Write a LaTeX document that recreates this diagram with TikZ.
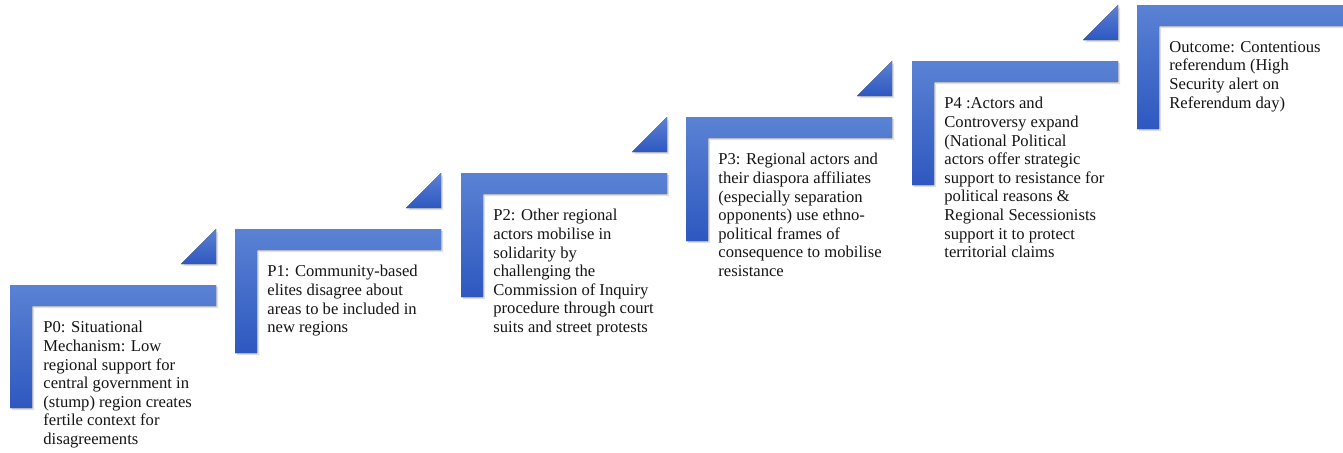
\documentclass[tikz,border=0pt]{standalone}
\usepackage{fontspec}
\setmainfont{Liberation Serif}
\usetikzlibrary{shadows}
\usepackage{xcolor}

\definecolor{azulclaro}{RGB}{90,130,212}
\definecolor{azulescuro}{RGB}{46,88,192}
\definecolor{texto}{RGB}{20,20,20}

\tikzset{
	degrau/.style = {top color = azulclaro, bottom color = azulescuro, draw = none, drop shadow = {opacity = 0.25, shadow xshift = 1pt, shadow yshift = -1pt}},
	passo/.style  = {anchor = north west, inner sep = 0pt, align = left, text = texto, font = \fontsize{8.3}{9.3}\selectfont}
}

\begin{document}
\begin{tikzpicture}[x = 0.5pt, y = -0.5pt]

	\useasboundingbox (0, 0) rectangle (1343, 452); % Área total

	\fill[degrau] (  10, 285) -- ( 216, 285) -- ( 216, 306) -- (  32, 306) -- (  32, 408) -- (  10, 408) -- cycle; % Degrau P0
	\fill[degrau] ( 235, 229) -- ( 441, 229) -- ( 441, 250) -- ( 257, 250) -- ( 257, 353) -- ( 235, 353) -- cycle; % Degrau P1
	\fill[degrau] ( 461, 173) -- ( 667, 173) -- ( 667, 194) -- ( 483, 194) -- ( 483, 297) -- ( 461, 297) -- cycle; % Degrau P2
	\fill[degrau] ( 686, 117) -- ( 892, 117) -- ( 892, 138) -- ( 708, 138) -- ( 708, 241) -- ( 686, 241) -- cycle; % Degrau P3
	\fill[degrau] ( 912,  61) -- (1118,  61) -- (1118,  82) -- ( 934,  82) -- ( 934, 185) -- ( 912, 185) -- cycle; % Degrau P4
	\fill[degrau] (1137,   5) -- (1343,   5) -- (1343,  26) -- (1159,  26) -- (1159, 129) -- (1137, 129) -- cycle; % Degrau final

	\fill[degrau] ( 181, 264) -- ( 216, 229) -- ( 216, 264) -- cycle; % Seta P0
	\fill[degrau] ( 406, 208) -- ( 441, 173) -- ( 441, 208) -- cycle; % Seta P1
	\fill[degrau] ( 632, 152) -- ( 667, 117) -- ( 667, 152) -- cycle; % Seta P2
	\fill[degrau] ( 857,  96) -- ( 892,  61) -- ( 892,  96) -- cycle; % Seta P3
	\fill[degrau] (1083,  40) -- (1118,   5) -- (1118,  40) -- cycle; % Seta P4

	\node[passo] (p0) at (  43, 321) {P0: Situational\\Mechanism: Low\\regional support for\\central government in\\(stump) region creates\\fertile context for\\disagreements};
	\node[passo] (p1) at ( 267, 265) {P1: Community-based\\elites disagree about\\areas to be included in\\new regions};
	\node[passo] (p2) at ( 493, 209) {P2: Other regional\\actors mobilise in\\solidarity by\\challenging the\\Commission of Inquiry\\procedure through court\\suits and street protests};
	\node[passo] (p3) at ( 718, 153) {P3: Regional actors and\\their diaspora affiliates\\(especially separation\\opponents) use ethno-\\political frames of\\consequence to mobilise\\resistance};
	\node[passo] (p4) at ( 944,  97) {P4 :Actors and\\Controversy expand\\(National Political\\actors offer strategic\\support to resistance for\\political reasons \&\\Regional Secessionists\\support it to protect\\territorial claims};
	\node[passo] (resultado) at (1169,  41) {Outcome: Contentious\\referendum (High\\Security alert on\\Referendum day)};

\end{tikzpicture}
\end{document}
